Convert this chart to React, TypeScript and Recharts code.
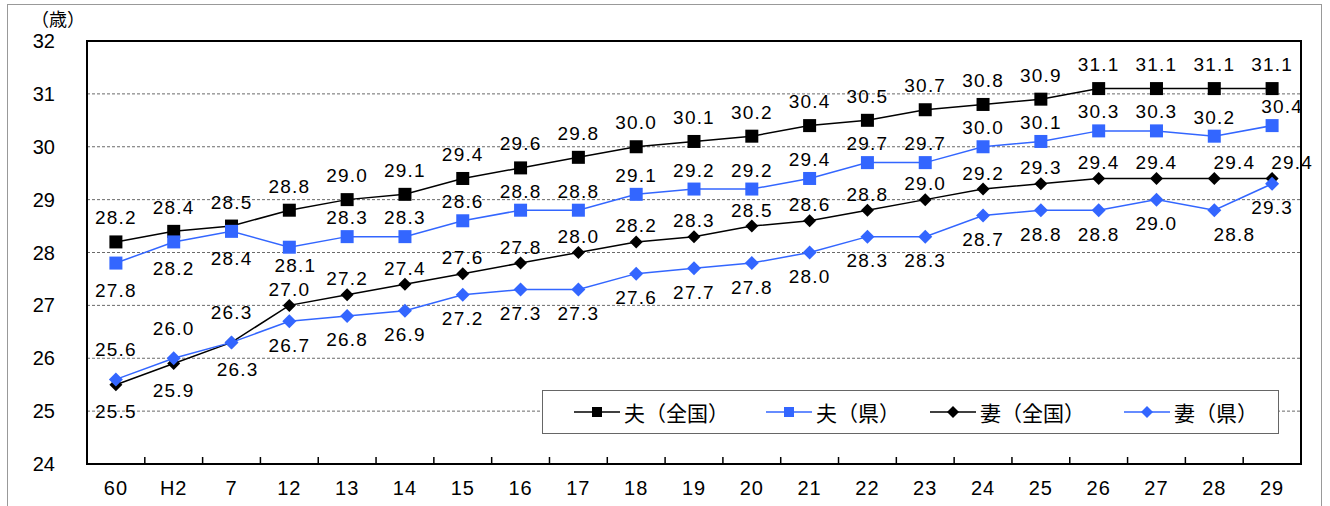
import { CartesianGrid, LabelList, Legend, Line, LineChart, XAxis, YAxis } from 'recharts'

const years = ['60', 'H2', '7', '12', '13', '14', '15', '16', '17', '18', '19', '20', '21', '22', '23', '24', '25', '26', '27', '28', '29']

const husbandJapan = [28.2, 28.4, 28.5, 28.8, 29.0, 29.1, 29.4, 29.6, 29.8, 30.0, 30.1, 30.2, 30.4, 30.5, 30.7, 30.8, 30.9, 31.1, 31.1, 31.1, 31.1]
const husbandPref = [27.8, 28.2, 28.4, 28.1, 28.3, 28.3, 28.6, 28.8, 28.8, 29.1, 29.2, 29.2, 29.4, 29.7, 29.7, 30.0, 30.1, 30.3, 30.3, 30.2, 30.4]
const wifeJapan = [25.5, 25.9, 26.3, 27.0, 27.2, 27.4, 27.6, 27.8, 28.0, 28.2, 28.3, 28.5, 28.6, 28.8, 29.0, 29.2, 29.3, 29.4, 29.4, 29.4, 29.4]
const wifePref = [25.6, 26.0, 26.3, 26.7, 26.8, 26.9, 27.2, 27.3, 27.3, 27.6, 27.7, 27.8, 28.0, 28.3, 28.3, 28.7, 28.8, 28.8, 29.0, 28.8, 29.3]

const yTicks = [24, 25, 26, 27, 28, 29, 30, 31, 32]

const data = years.map((year, i) => ({
  year,
  husbandJapan: husbandJapan[i],
  husbandPref: husbandPref[i],
  wifeJapan: wifeJapan[i],
  wifePref: wifePref[i],
}))

const BLUE = '#3366ff'
const FONT = '"Liberation Sans", Arial, sans-serif'
const CJK = '"Noto Sans CJK JP", sans-serif'

// where each series puts its value labels (dy from the point), plus a few nudges
const labelDy: Record<string, (i: number) => number> = {
  husbandJapan: () => -24,
  husbandPref: (i) => (i < 4 ? (i === 3 ? 18 : 27) : -19),
  wifeJapan: (i) => (i < 3 ? 27 : -16),
  wifePref: (i) => (i < 3 ? -30 : 24),
}
const labelDx: Record<string, (i: number) => number> = {
  husbandJapan: () => 0,
  husbandPref: (i) => (i === 20 ? 10 : i === 3 ? 6 : 0),
  wifeJapan: (i) => (i >= 19 ? 20 : i === 2 ? 6 : 0),
  wifePref: (i) => (i === 19 ? 20 : 0),
}

const makeLabel = (key: string) => (props: any) => {
  const { x, y, value, index } = props
  return (
    <text
      x={x + labelDx[key](index)}
      y={y + labelDy[key](index)}
      textAnchor="middle"
      dominantBaseline="central"
      fontFamily={FONT}
      fontSize={19}
      letterSpacing={1.2}
      fill="#000"
    >
      {Number(value).toFixed(1)}
    </text>
  )
}

const SquareDot = (color: string, size: number) => (props: any) => {
  const { cx, cy, index } = props
  return <rect key={index} x={cx - size / 2} y={cy - size / 2} width={size} height={size} fill={color} />
}

const DiamondDot = (color: string, size: number) => (props: any) => {
  const { cx, cy, index } = props
  const h = size / 2
  return <polygon key={index} points={`${cx},${cy - h} ${cx + h},${cy} ${cx},${cy + h} ${cx - h},${cy}`} fill={color} />
}

const XTick = (props: any) => {
  const { x, y, payload, index } = props
  const half = payload.offset ?? 0
  return (
    <g>
      {index > 0 && <line x1={x - half} x2={x - half} y1={y} y2={y - 7} stroke="#000" strokeWidth={1.5} />}
      <text x={x} y={y + 24} textAnchor="middle" dominantBaseline="central" fontFamily={FONT} fontSize={20} letterSpacing={1} fill="#000">
        {payload.value}
      </text>
    </g>
  )
}

const legendItems = [
  { name: '夫（全国）', color: '#000', shape: 'square', left: 573 },
  { name: '夫（県）', color: BLUE, shape: 'square', left: 765 },
  { name: '妻（全国）', color: '#000', shape: 'diamond', left: 929 },
  { name: '妻（県）', color: BLUE, shape: 'diamond', left: 1123 },
]

const LegendBox = () => (
  <div
    style={{
      position: 'relative',
      width: 737,
      height: 44,
      border: '1.5px solid #666',
      background: '#fff',
      boxSizing: 'border-box',
    }}
  >
    {legendItems.map((it) => (
      <div
        key={it.name}
        style={{ position: 'absolute', left: it.left - 542, top: 0, height: 42, display: 'flex', alignItems: 'center' }}
      >
        <svg width={46} height={14} style={{ marginRight: 4 }}>
          <line x1={0} x2={46} y1={7} y2={7} stroke={it.color} strokeWidth={1.5} />
          {it.shape === 'square' ? (
            <rect x={18} y={2} width={10} height={10} fill={it.color} />
          ) : (
            <polygon points="23,1 29,7 23,13 17,7" fill={it.color} />
          )}
        </svg>
        <span style={{ fontFamily: CJK, fontSize: 21, color: '#000', lineHeight: '42px' }}>{it.name}</span>
      </div>
    ))}
  </div>
)

export default function App() {
  return (
    <div style={{ position: 'absolute', left: 0, top: 0, width: 1330, height: 506, background: '#fff', overflow: 'hidden' }}>
      <div
        style={{
          position: 'absolute',
          left: 7,
          top: 4,
          width: 1315,
          height: 520,
          border: '1px solid #999',
          boxSizing: 'border-box',
        }}
      />
      <div style={{ position: 'absolute', left: 31, top: 7, fontFamily: CJK, fontSize: 18, lineHeight: '22px', color: '#000' }}>
        （歳）
      </div>
      <div style={{ position: 'absolute', left: 0, top: 0 }}>
        <LineChart width={1330} height={506} data={data} margin={{ top: 41, right: 29, bottom: 0, left: 27 }}>
          <CartesianGrid horizontal vertical={false} stroke="#444" strokeDasharray="3 2" strokeWidth={0.8} />
          <XAxis
            dataKey="year"
            scale="band"
            height={42}
            tickLine={false}
            tickSize={0}
            tickMargin={0}
            axisLine={false}
            tick={<XTick />}
            interval={0}
          />
          <YAxis
            domain={[24, 32]}
            ticks={yTicks}
            width={60}
            tickLine={false}
            axisLine={false}
            tickSize={0}
            tickMargin={32}
            interval={0}
            tick={{ fontFamily: FONT, fontSize: 20, fill: '#000' }}
          />
          <Legend
            layout="horizontal"
            verticalAlign="middle"
            align="center"
            wrapperStyle={{ left: 542, top: 390, width: 737, height: 44 }}
            content={() => <LegendBox />}
          />
          <Line
            dataKey="husbandJapan"
            name="夫（全国）"
            stroke="#000"
            strokeWidth={1.5}
            dot={SquareDot('#000', 13)}
            activeDot={false}
            isAnimationActive={false}
          >
            <LabelList dataKey="husbandJapan" content={makeLabel('husbandJapan')} />
          </Line>
          <Line
            dataKey="husbandPref"
            name="夫（県）"
            stroke={BLUE}
            strokeWidth={1.5}
            dot={SquareDot(BLUE, 13)}
            activeDot={false}
            isAnimationActive={false}
          >
            <LabelList dataKey="husbandPref" content={makeLabel('husbandPref')} />
          </Line>
          <Line
            dataKey="wifeJapan"
            name="妻（全国）"
            stroke="#000"
            strokeWidth={1.5}
            dot={DiamondDot('#000', 13)}
            activeDot={false}
            isAnimationActive={false}
          >
            <LabelList dataKey="wifeJapan" content={makeLabel('wifeJapan')} />
          </Line>
          <Line
            dataKey="wifePref"
            name="妻（県）"
            stroke={BLUE}
            strokeWidth={1.5}
            dot={DiamondDot(BLUE, 14)}
            activeDot={false}
            isAnimationActive={false}
          >
            <LabelList dataKey="wifePref" content={makeLabel('wifePref')} />
          </Line>
        </LineChart>
      </div>
      {/* plot frame */}
      <div
        style={{
          position: 'absolute',
          left: 86,
          top: 40,
          width: 1216,
          height: 425,
          border: '2px solid #000',
          boxSizing: 'border-box',
          pointerEvents: 'none',
        }}
      />
    </div>
  )
}
